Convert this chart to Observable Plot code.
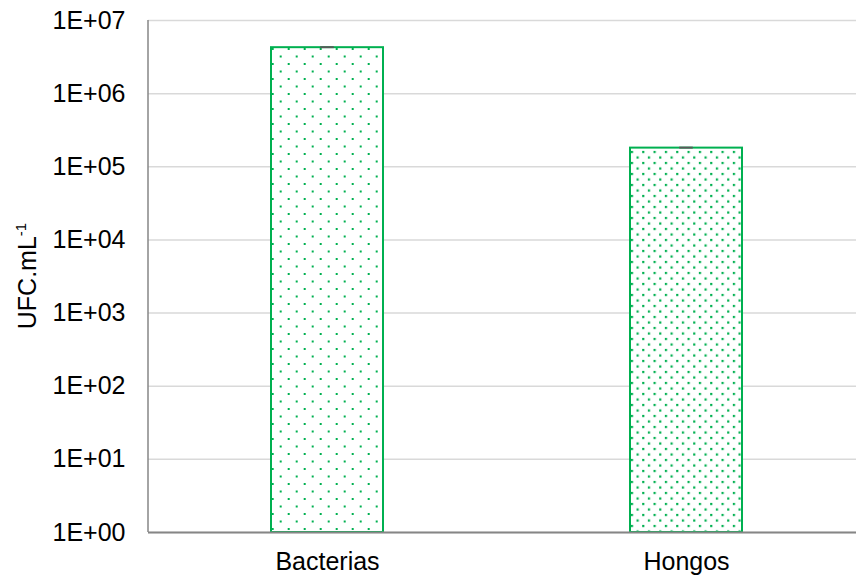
<!DOCTYPE html>
<html>
<head>
<meta charset="utf-8">
<script src="https://cdn.jsdelivr.net/npm/d3@7"></script>
<script src="https://cdn.jsdelivr.net/npm/@observablehq/plot@0.6"></script>
<style>
  html, body { margin: 0; padding: 0; background: #fff; overflow: hidden; }
</style>
</head>
<body>
<div id="chart"></div>
<script>
// Recuento microbiano (UFC por mL), escala logarítmica
const categories = ["Bacterias", "Hongos"];
const values = [4.25e6, 1.8e5];
const errors = [2.0e4, 1.0e3];
const yTicks = [1, 10, 100, 1e3, 1e4, 1e5, 1e6, 1e7];

const rows = categories.map((c, i) => ({category: c, value: values[i], err: errors[i]}));

const green = "#00b050";
const fillFor = {Bacterias: "url(#dots-sparse)", Hongos: "url(#dots-dense)"};
const fmt = d => "1E+" + String(Math.round(Math.log10(d))).padStart(2, "0");

const plot = Plot.plot({
  width: 856,
  height: 579,
  marginLeft: 148,
  marginRight: 0,
  marginTop: 20,
  marginBottom: 47,
  style: {fontFamily: "'Liberation Sans', Arial, sans-serif", fontSize: "25px", color: "#000", background: "#fff", overflow: "hidden"},
  x: {domain: categories, range: [148, 866], paddingInner: 0.688, paddingOuter: 0.344, align: 0.5, label: null},
  y: {type: "log", domain: [1, 1e7], label: null},
  marks: [
    Plot.gridY(yTicks, {stroke: "#d9d9d9", strokeOpacity: 1, strokeWidth: 1.5}),
    Plot.axisY(yTicks, {tickFormat: fmt, tickSize: 0, tickPadding: 23, fontSize: 25, label: null}),
    Plot.axisX({tickSize: 0, tickPadding: 20, fontSize: 25, label: null}),
    ...rows.map(r => Plot.barY([r], {x: "category", y1: 1, y2: "value", fill: fillFor[r.category], stroke: green, strokeWidth: 2})),
    // error bars: value ± err, drawn as a narrow capped band
    Plot.barY(rows, {x: "category", y1: d => d.value - d.err, y2: d => d.value + d.err, fill: "#595959", stroke: "#595959", strokeWidth: 1.6, insetLeft: 50, insetRight: 50}),
    Plot.ruleY([1], {stroke: "#868686", strokeWidth: 2})
  ]
});

const svg = d3.select(plot);

// dotted fills for the bars
const defs = svg.insert("defs", ":first-child");
const sparse = defs.append("pattern")
  .attr("id", "dots-sparse").attr("patternUnits", "userSpaceOnUse")
  .attr("x", -0.3).attr("y", 3).attr("width", 16).attr("height", 15);
sparse.append("rect").attr("width", 16).attr("height", 15).attr("fill", "#fff");
sparse.append("rect").attr("x", 0).attr("y", 0).attr("width", 2).attr("height", 2).attr("fill", green);
sparse.append("rect").attr("x", 8).attr("y", 7.5).attr("width", 2).attr("height", 2).attr("fill", green);

const dense = defs.append("pattern")
  .attr("id", "dots-dense").attr("patternUnits", "userSpaceOnUse")
  .attr("x", 7.7).attr("y", 7.9).attr("width", 11.33).attr("height", 11);
dense.append("rect").attr("width", 11.33).attr("height", 11).attr("fill", "#fff");
dense.append("rect").attr("x", 0).attr("y", 0).attr("width", 2.2).attr("height", 2.2).attr("fill", green);
dense.append("rect").attr("x", 5.67).attr("y", 5.5).attr("width", 2.2).attr("height", 2.2).attr("fill", green);

// left axis line
const xr = plot.scale("x").range;
const yr = plot.scale("y").range;
svg.append("line")
  .attr("x1", xr[0]).attr("x2", xr[0])
  .attr("y1", yr[0]).attr("y2", yr[1])
  .attr("stroke", "#868686").attr("stroke-width", 1.5);

// y axis title with superscript
const title = svg.append("text")
  .attr("transform", `translate(36,${(yr[0] + yr[1]) / 2}) rotate(-90)`)
  .attr("text-anchor", "middle")
  .attr("font-family", "'Liberation Sans', Arial, sans-serif")
  .attr("font-size", 25)
  .attr("fill", "#000");
title.append("tspan").text("UFC.mL");
title.append("tspan").attr("font-size", 15).attr("dy", -10).text("-1");

document.getElementById("chart").appendChild(plot);
</script>
</body>
</html>
